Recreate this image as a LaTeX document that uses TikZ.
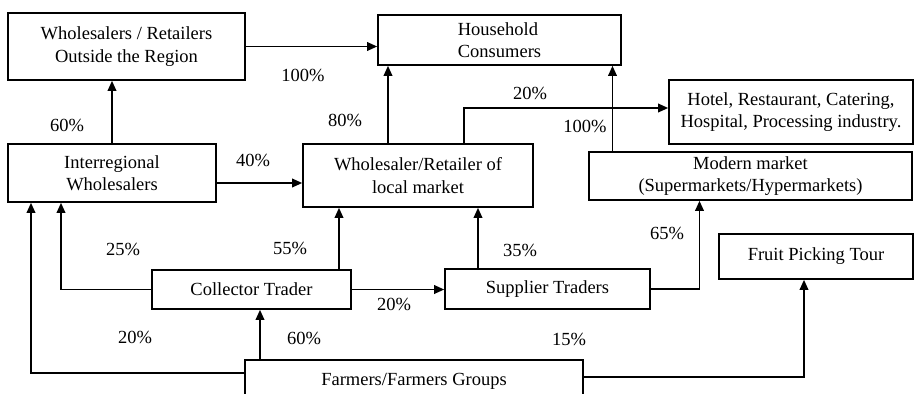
\documentclass[tikz,border=0pt]{standalone}
\usepackage{fontspec}
\setmainfont{Liberation Serif}
\newfontfamily\diagfont{Liberation Serif}
\usetikzlibrary{arrows.meta}
\begin{document}
\begin{tikzpicture}[x=1pt,y=-1pt,
  box/.style={draw, line width=1.6pt, inner sep=0pt, align=center, font=\diagfont\fontsize{18.5}{22.5}\selectfont},
  arr/.style={line width=1.8pt, -{Triangle[length=10pt,width=8.5pt]}},
  pct/.style={inner sep=0pt, font=\diagfont\fontsize{18.5}{22.5}\selectfont}]
\path[use as bounding box, clip] (0,0) rectangle (914,394);
\fill[white] (0,0) rectangle (914,394);
% boxes
\node[box, minimum width=237pt, minimum height=67pt] (wro) at (126.5,46.5) {Wholesalers / Retailers\\Outside the Region};
\node[box, minimum width=243pt, minimum height=50pt, align=left] (hc) at (499.5,40) {Household\\Consumers};
\node[box, minimum width=208pt, minimum height=58pt] (iw) at (112,173) {Interregional\\Wholesalers};
\node[box, minimum width=230pt, minimum height=63pt] (wl) at (418,175.5) {Wholesaler/Retailer of\\local market};
\node[box, minimum width=244pt, minimum height=64pt] (hr) at (791,112) {Hotel, Restaurant, Catering,\\Hospital, Processing industry.};
\node[box, minimum width=323pt, minimum height=48pt] (mm) at (750.5,176) {Modern market\\(Supermarkets/Hypermarkets)};
\node[box, minimum width=199pt, minimum height=39pt] (ct) at (251.5,289.5) {Collector Trader};
\node[box, minimum width=205pt, minimum height=40pt] (st) at (547.5,289) {Supplier Traders};
\node[box, minimum width=194pt, minimum height=45pt] (fp) at (816,256.5) {Fruit Picking Tour};
\node[box, minimum width=338pt, minimum height=42pt] (fg) at (414,381) {Farmers/Farmers Groups};
% connectors
\draw[arr] (wro.east) -- (wro.east -| hc.west);
\draw[arr] (iw.north) -- (iw.north |- wro.south);
\draw[arr] ([yshift=-10pt]iw.east) -- ([yshift=-10pt]iw.east -| wl.west);
\draw[arr] ([xshift=-30pt]wl.north) -- ([xshift=-30pt]wl.north |- hc.south);
\draw[arr] ([xshift=46pt]wl.north) |- ([yshift=4pt]hr.west);
\draw[arr] ([xshift=-138pt]mm.north) -- ([xshift=-138pt]mm.north |- hc.south);
\draw[arr] ([xshift=87.5pt]ct.north) -- ([xshift=87.5pt]ct.north |- wl.south);
\draw[arr] (ct.west) -| ([xshift=-51pt]iw.south);
\draw[arr] (ct.east) -- (ct.east -| st.west);
\draw[arr] ([xshift=-69.5pt]st.north) -- ([xshift=-69.5pt]st.north |- wl.south);
\draw[arr] (st.east) -| ([xshift=-51pt]mm.south);
\draw[arr] ([xshift=-154pt]fg.north) -- ([xshift=-154pt]fg.north |- ct.south);
\draw[arr] ([yshift=8pt]fg.west) -| ([xshift=-81pt]iw.south);
\draw[arr] ([yshift=4pt]fg.east) -| ([xshift=-12pt]fp.south);
% labels
\node[pct] (l1) at (303,75) {100\%};
\node[pct] (l2) at (67,125) {60\%};
\node[pct] (l3) at (345,120) {80\%};
\node[pct] (l4) at (530,93) {20\%};
\node[pct] (l5) at (585,126) {100\%};
\node[pct] (l6) at (253,160) {40\%};
\node[pct] (l7) at (123,249) {25\%};
\node[pct] (l8) at (290,248) {55\%};
\node[pct] (l9) at (394,304) {20\%};
\node[pct] (l10) at (135,337) {20\%};
\node[pct] (l11) at (304,338) {60\%};
\node[pct] (l12) at (520,250) {35\%};
\node[pct] (l13) at (667,233) {65\%};
\node[pct] (l14) at (569,339) {15\%};
\end{tikzpicture}
\end{document}
